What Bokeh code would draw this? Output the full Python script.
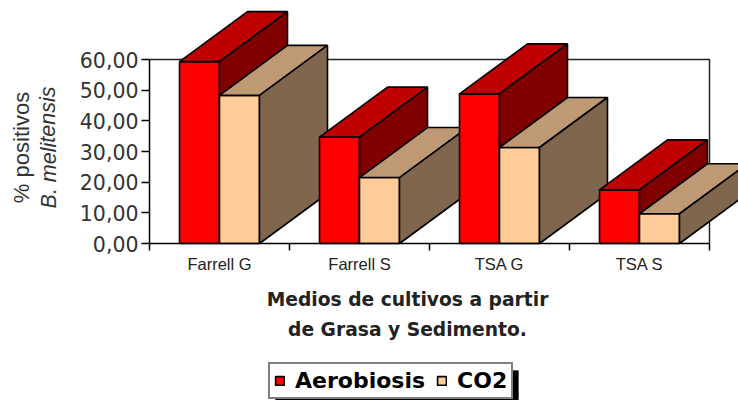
from bokeh.plotting import figure
from bokeh.embed import file_html
from bokeh.resources import INLINE
from bokeh.models import (Range1d, LinearAxis, FixedTicker, ColumnDataSource, Label,
                          Legend, LegendItem, BoxAnnotation)

categories = ["Farrell G", "Farrell S", "TSA G", "TSA S"]
aerobiosis = [59.3, 34.7, 48.8, 17.5]
co2 = [48.3, 21.5, 31.3, 9.7]
y_ticks = [0, 10, 20, 30, 40, 50, 60]
y_tick_labels = ["0,00", "10,00", "20,00", "30,00", "40,00", "50,00", "60,00"]

W, H = 738, 400
OX, OY = 0, 0            # page offset of the figure in the picture
PX_CAT = 140.0
PX_UNIT = 184 / 60
X0, Y0 = 149 - OX, 243 - OY   # figure pixels of the data origin
BAR_W = 40 / PX_CAT
GAP = 30 / PX_CAT
DX = 68 / PX_CAT
DY = 50 / PX_UNIT

p = figure(width=W, height=H, output_backend="svg", toolbar_location=None,
           x_range=Range1d(-X0 / PX_CAT, (W - X0) / PX_CAT),
           y_range=Range1d(-(H - Y0) / PX_UNIT, Y0 / PX_UNIT),
           x_axis_type=None, y_axis_type=None,
           min_border_left=0, min_border_right=0, min_border_top=0, min_border_bottom=0)
p.outline_line_color = None
p.xgrid.visible = False
p.ygrid.visible = False

def sx(page_x):
    return page_x - OX
def sy(page_y):
    return H - (page_y - OY)

n = len(categories)
p.line([0, n, n], [max(y_ticks), max(y_ticks), 0], line_color="#222222", line_width=1.5)

xs, ys, fills = [], [], []
def add(px, py, c):
    xs.append(px); ys.append(py); fills.append(c)

COL = {"a": ("#FF0000", "#BF0000", "#800000"), "c": ("#FFCC99", "#BF9973", "#80664D")}
idx = {}
for i in range(n):
    for k, (key, vals) in enumerate((("a", aerobiosis), ("c", co2))):
        x0 = i + GAP + k * BAR_W
        x1 = x0 + BAR_W
        v = vals[i]
        front, top, side = COL[key]
        idx.setdefault(key, len(xs))
        add([x0, x1, x1, x0], [0, 0, v, v], front)
        add([x0, x1, x1 + DX, x0 + DX], [v, v, v + DY, v + DY], top)
        add([x1, x1 + DX, x1 + DX, x1], [0, DY, v + DY, v], side)

src = ColumnDataSource(dict(xs=xs, ys=ys, fill=fills))
r = p.patches("xs", "ys", source=src, fill_color="fill", line_color="#000000", line_width=1.6)

yax = LinearAxis(ticker=FixedTicker(ticks=y_ticks), bounds=(0, max(y_ticks)), fixed_location=0)
yax.major_label_overrides = {t: l for t, l in zip(y_ticks, y_tick_labels)}
yax.major_label_text_font = "DejaVu Sans"
yax.major_label_text_font_size = "20.5px"
yax.major_label_text_color = "#333333"
yax.major_tick_out = 8
yax.major_tick_in = 0
yax.minor_tick_out = 0
yax.minor_tick_in = 0
yax.major_label_standoff = 3
yax.axis_line_width = 1.5
yax.major_tick_line_width = 1.5
p.add_layout(yax, "left")

centers = [i + 0.5 for i in range(n)]
xax = LinearAxis(ticker=FixedTicker(ticks=centers, minor_ticks=list(range(n + 1))),
                 bounds=(0, n), fixed_location=0)
xax.major_label_overrides = {c: l for c, l in zip(centers, categories)}
xax.major_label_text_font = "Liberation Sans"
xax.major_label_text_font_size = "16.5px"
xax.major_label_text_color = "#222222"
xax.major_tick_out = 0
xax.major_tick_in = 0
xax.minor_tick_out = 7
xax.minor_tick_in = 0
xax.major_label_standoff = 4
xax.axis_line_width = 1.5
xax.minor_tick_line_width = 1.5
p.add_layout(xax, "below")

for txt, py in (("Medios de cultivos a partir", 299), ("de Grasa y Sedimento.", 329)):
    p.add_layout(Label(x=sx(407), y=sy(py), x_units="screen", y_units="screen",
                       text=txt, text_align="center", text_baseline="middle",
                       text_font="DejaVu Sans", text_font_style="bold", text_font_size="18.7px",
                       text_color="#222222"))
p.add_layout(Label(x=sx(21), y=sy(147), x_units="screen", y_units="screen", angle=1.5708,
                   text="% positivos", text_align="center", text_baseline="middle",
                   text_font="Liberation Sans", text_font_size="22px", text_color="#333333"))
p.add_layout(Label(x=sx(48), y=sy(147), x_units="screen", y_units="screen", angle=1.5708,
                   text="B. melitensis", text_align="center", text_baseline="middle",
                   text_font="Liberation Sans", text_font_style="italic", text_font_size="21.5px",
                   text_color="#333333"))

p.add_layout(BoxAnnotation(left=sx(275), right=sx(518), top=sy(370), bottom=sy(400),
                           left_units="screen", right_units="screen",
                           top_units="screen", bottom_units="screen",
                           fill_color="#000000", fill_alpha=1, line_color="#000000"))

legend = Legend(items=[LegendItem(label="Aerobiosis", renderers=[r], index=idx["a"]),
                       LegendItem(label="CO2", renderers=[r], index=idx["c"])],
                orientation="horizontal", location=(sx(268), sy(399)),
                label_text_font="DejaVu Sans", label_text_font_style="bold",
                label_text_font_size="22px", label_text_color="#000000",
                glyph_width=11, glyph_height=11, spacing=11, padding=4, margin=0,
                label_standoff=10, border_line_color="#000000", border_line_width=2,
                background_fill_color="#FFFFFF", background_fill_alpha=1)
p.add_layout(legend, "center")

open("out.html", "w").write(file_html(p, INLINE))
